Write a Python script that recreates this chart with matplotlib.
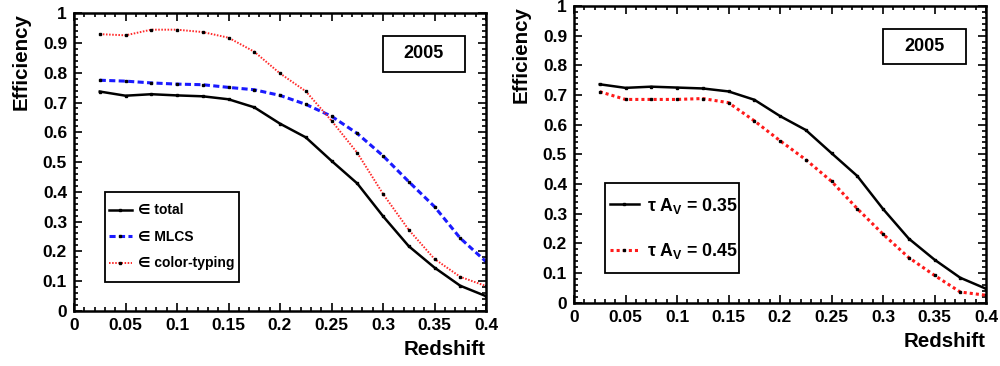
import numpy as np
import matplotlib
matplotlib.use("Agg")
import matplotlib.pyplot as plt
from matplotlib.patches import Rectangle
from matplotlib.ticker import MultipleLocator, FormatStrFormatter

plt.rcParams['font.family'] = ['Liberation Sans', 'DejaVu Sans']
plt.rcParams['font.weight'] = 'bold'
plt.rcParams['mathtext.fontset'] = 'custom'
plt.rcParams['mathtext.rm'] = 'Liberation Sans:bold'
plt.rcParams['mathtext.bf'] = 'Liberation Sans:bold'
plt.rcParams['mathtext.it'] = 'Liberation Sans:bold'

# redshift bins
z = [0.025, 0.05, 0.075, 0.1, 0.125, 0.15, 0.175, 0.2,
     0.225, 0.25, 0.275, 0.3, 0.325, 0.35, 0.375, 0.4]

# left panel
eff_total = [0.737, 0.723, 0.728, 0.724, 0.721, 0.711, 0.684, 0.629,
             0.583, 0.504, 0.428, 0.318, 0.217, 0.145, 0.084, 0.049]
eff_mlcs = [0.775, 0.772, 0.766, 0.762, 0.760, 0.751, 0.743, 0.724,
            0.694, 0.654, 0.596, 0.521, 0.434, 0.350, 0.244, 0.165]
eff_color = [0.930, 0.926, 0.945, 0.945, 0.937, 0.918, 0.871, 0.798,
             0.738, 0.639, 0.531, 0.393, 0.272, 0.174, 0.114, 0.083]

# right panel
eff_tau035 = [0.736, 0.724, 0.728, 0.725, 0.722, 0.712, 0.684, 0.629,
              0.582, 0.504, 0.427, 0.316, 0.216, 0.145, 0.084, 0.047]
eff_tau045 = [0.711, 0.685, 0.685, 0.685, 0.688, 0.674, 0.613, 0.546,
              0.482, 0.409, 0.317, 0.231, 0.152, 0.092, 0.036, 0.025]

year_label = "2005"

fig = plt.figure(figsize=(10, 3.66), dpi=100)
ax1 = fig.add_axes([0.074, 0.151, 0.412, 0.8126])
ax2 = fig.add_axes([0.574, 0.173, 0.412, 0.8107])

mk = dict(marker='s', ms=2.0, mfc='k', mec='k')


def style(ax):
    ax.set_xlim(0, 0.4)
    ax.set_ylim(0, 1)
    ax.xaxis.set_major_locator(MultipleLocator(0.05))
    ax.xaxis.set_minor_locator(MultipleLocator(0.01))
    ax.yaxis.set_major_locator(MultipleLocator(0.1))
    ax.yaxis.set_minor_locator(MultipleLocator(0.02))
    ax.xaxis.set_major_formatter(FormatStrFormatter('%g'))
    ax.yaxis.set_major_formatter(FormatStrFormatter('%g'))
    ax.tick_params(which='both', direction='in', top=True, right=True,
                   width=1.2, labelsize=12.5)
    ax.tick_params(which='major', length=6)
    ax.tick_params(which='minor', length=3)
    ax.tick_params(axis='x', pad=5)
    ax.tick_params(axis='y', pad=5)
    for s in ax.spines.values():
        s.set_linewidth(1.8)
    ax.set_xlabel("Redshift", fontsize=14.8, fontweight='bold')
    ax.xaxis.set_label_coords(1.0, -0.13)
    ax.xaxis.label.set_ha('right')
    ax.xaxis.label.set_va('center')
    ax.set_ylabel("Efficiency", fontsize=14.8, fontweight='bold')
    ax.yaxis.set_label_coords(-0.128, 1.0)
    ax.yaxis.label.set_va('center')
    ax.yaxis.label.set_ha('right')


style(ax1)
style(ax2)

# left panel curves
ax1.plot(z, eff_total, color='k', lw=1.8, label='∈ total', **mk)
ax1.plot(z, eff_mlcs, color='#1a1aff', lw=2.2, ls=(0, (2.0, 1.1)),
         label='∈ MLCS', **mk)
ax1.plot(z, eff_color, color='#ff2a2a', lw=1.4, ls=(0, (0.8, 0.8)),
         label='∈ color-typing', **mk)

ax1.add_patch(Rectangle((0.0755, 0.098), 0.3255, 0.300, transform=ax1.transAxes,
                        fill=False, lw=1.3, ec='k', zorder=5))
ax1.legend(loc='center left', bbox_to_anchor=(0.085, 0.248), frameon=False,
           fontsize=10, handlelength=1.65, handletextpad=0.45,
           labelspacing=0.9, borderpad=0, borderaxespad=0, numpoints=1)

ax1.add_patch(Rectangle((0.750, 0.803), 0.199, 0.121, transform=ax1.transAxes,
                        fill=False, lw=1.3, ec='k', zorder=5))
ax1.text(0.8495, 0.8635, year_label, transform=ax1.transAxes, ha='center',
         va='center', fontsize=13, fontweight='bold')

# right panel curves
ax2.plot(z, eff_tau035, color='k', lw=1.8,
         label=r'τ A$_\mathbf{V}$ = 0.35', **mk)
ax2.plot(z, eff_tau045, color='#ff1a1a', lw=2.2, ls=(0, (1.0, 1.0)),
         label=r'τ A$_\mathbf{V}$ = 0.45', **mk)

ax2.add_patch(Rectangle((0.0755, 0.099), 0.3255, 0.303, transform=ax2.transAxes,
                        fill=False, lw=1.3, ec='k', zorder=5))
ax2.legend(loc='center left', bbox_to_anchor=(0.088, 0.25), frameon=False,
           fontsize=12.8, handlelength=1.6, handletextpad=0.45,
           labelspacing=1.45, borderpad=0, borderaxespad=0, numpoints=1)

ax2.add_patch(Rectangle((0.750, 0.803), 0.201, 0.118, transform=ax2.transAxes,
                        fill=False, lw=1.3, ec='k', zorder=5))
ax2.text(0.8505, 0.862, year_label, transform=ax2.transAxes, ha='center',
         va='center', fontsize=13, fontweight='bold')

fig.savefig('out.png', dpi=100)
